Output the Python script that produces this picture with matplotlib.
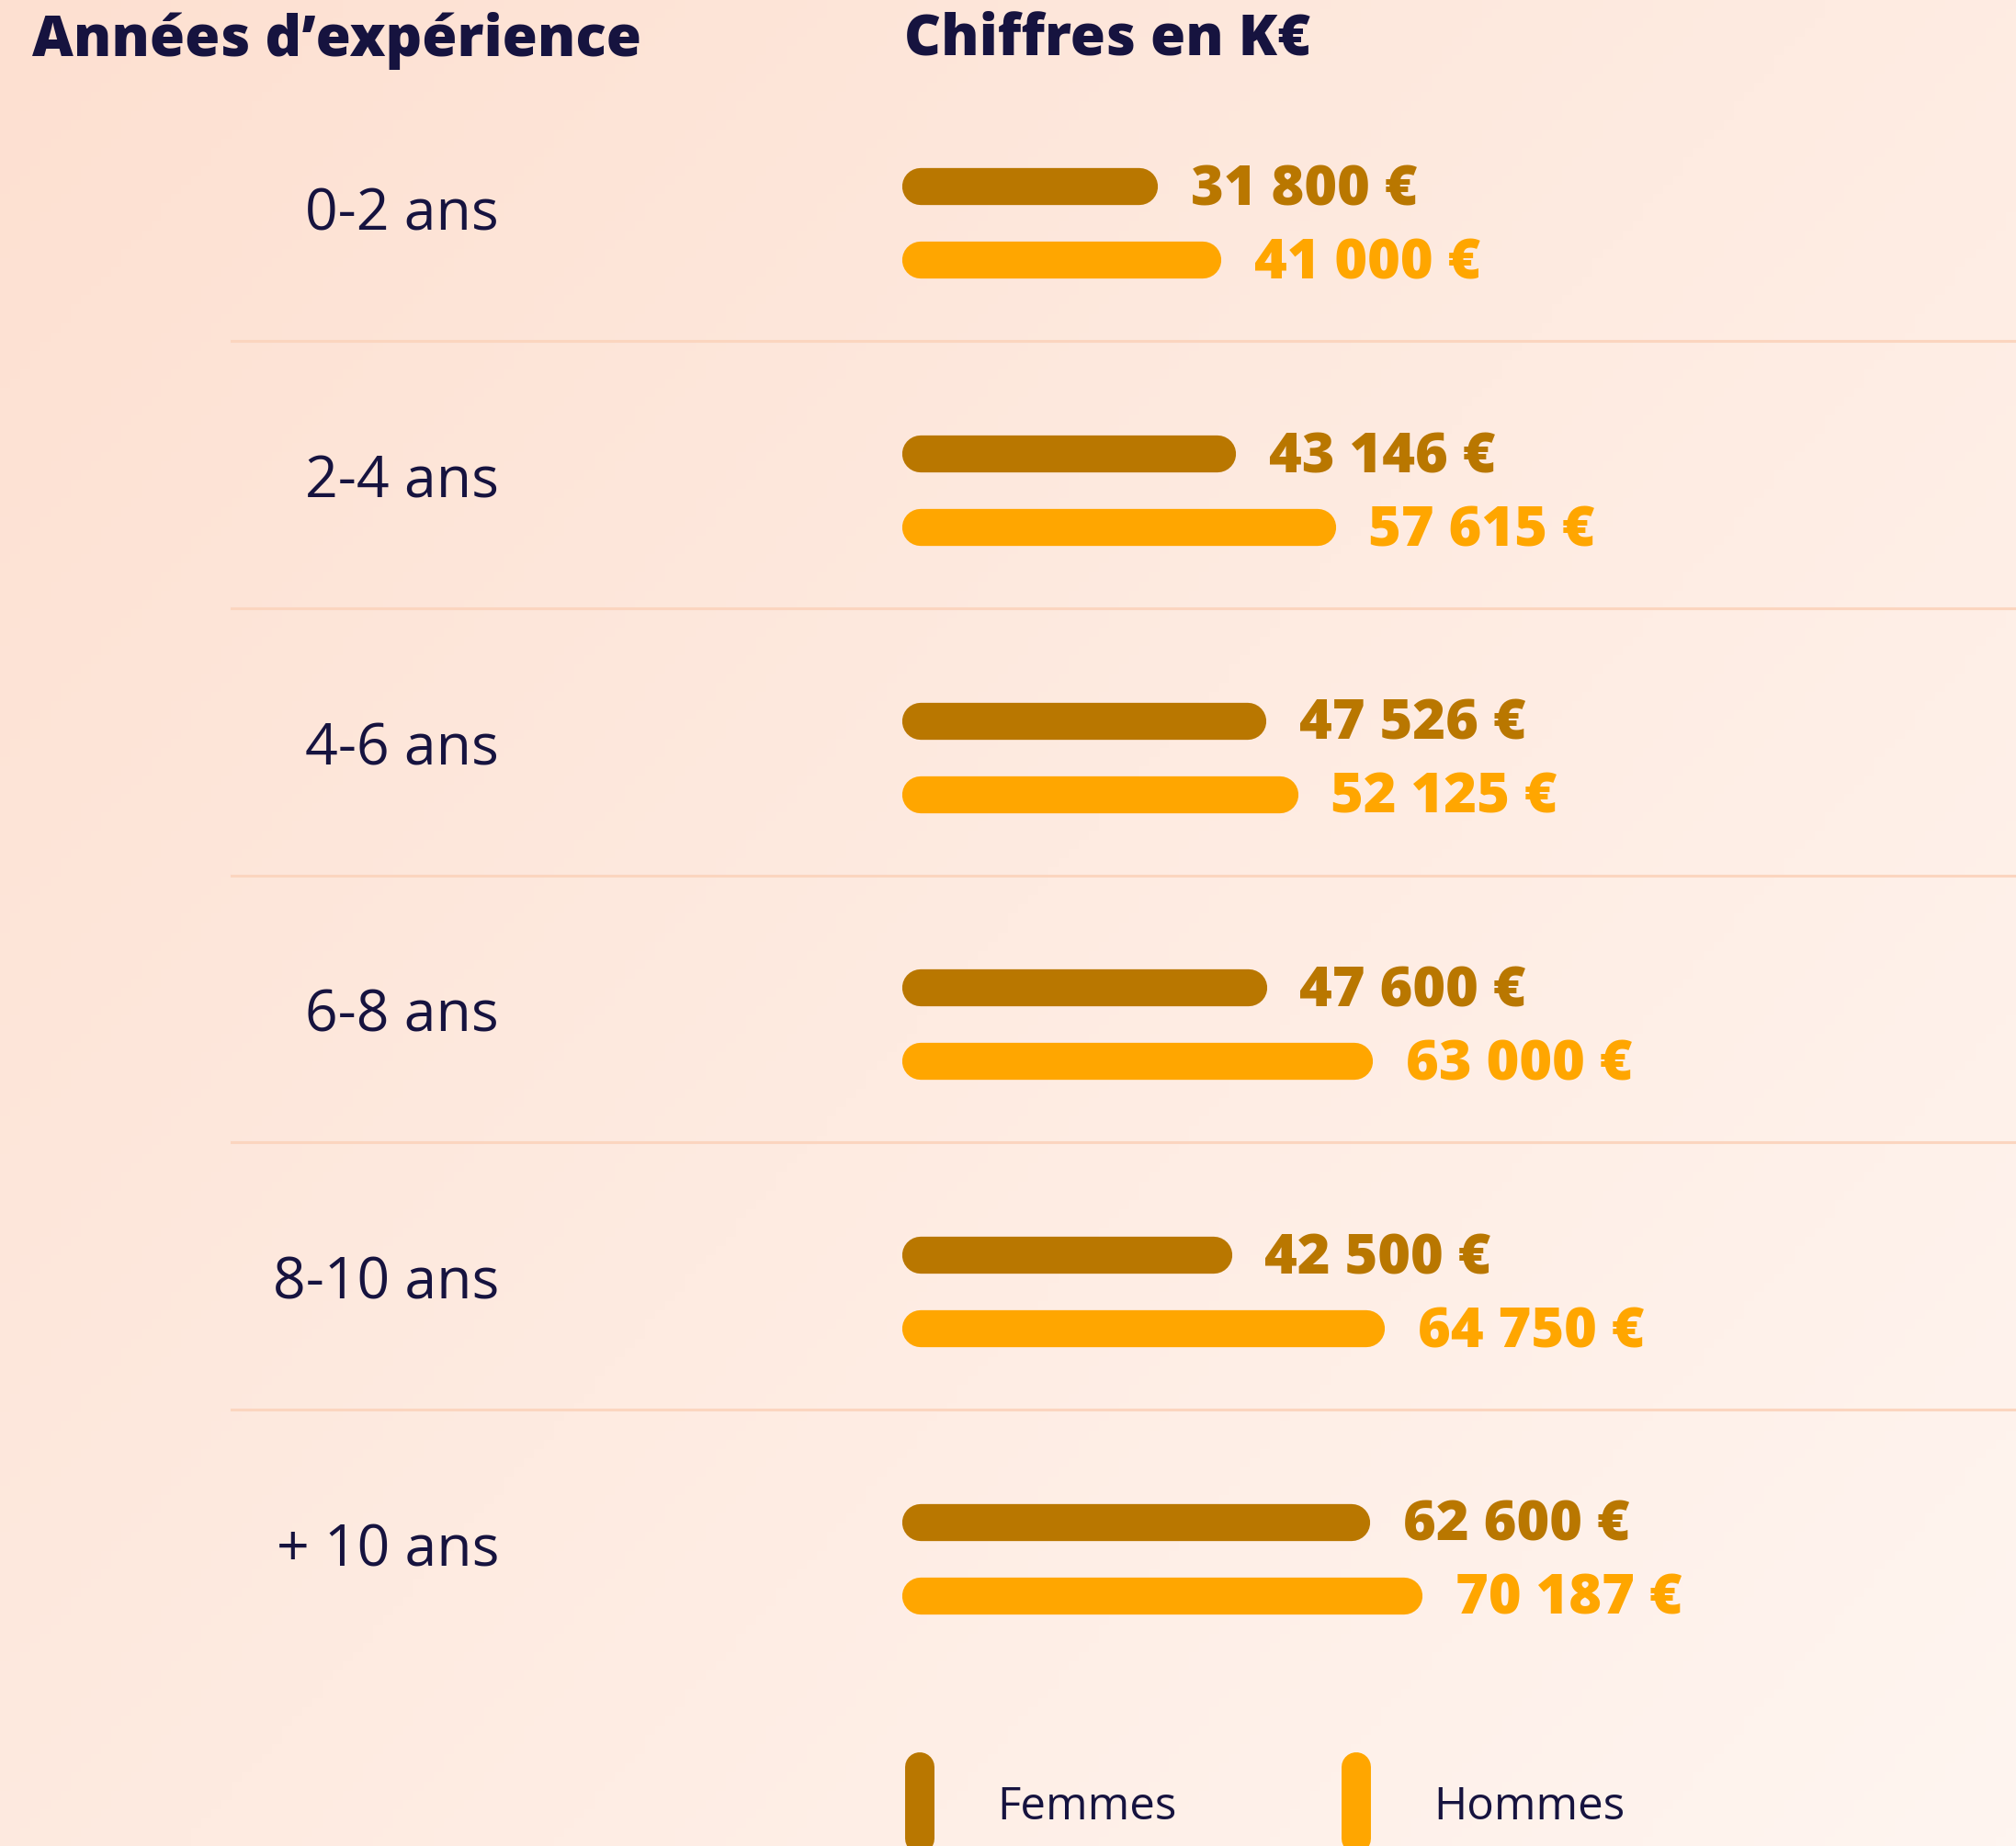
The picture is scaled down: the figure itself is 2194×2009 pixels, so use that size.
import matplotlib
matplotlib.use("Agg")
import matplotlib.pyplot as plt
import numpy as np
from matplotlib.lines import Line2D
from matplotlib.markers import MarkerStyle
from matplotlib.colors import LinearSegmentedColormap

categories = ["0-2 ans", "2-4 ans", "4-6 ans", "6-8 ans", "8-10 ans", "+ 10 ans"]
femmes = [31800, 43146, 47526, 47600, 42500, 62600]
hommes = [41000, 57615, 52125, 63000, 64750, 70187]
series_names = ["Femmes", "Hommes"]

NAVY = "#16133f"
GOLD = "#b97700"
ORANGE = "#ffa600"
SEP = "#fbd5bf"


def fmt_eur(v):
  return f"{v:,}".replace(",", " ") + " €"


W, H, DPI = 2194, 2009, 100
fig = plt.figure(figsize=(W / DPI, H / DPI), dpi=DPI)

# diagonal peach background
bg = fig.add_axes([0, 0, 1, 1], zorder=0)
bg.axis("off")
yy, xx = np.mgrid[0:1:200j, 0:1:200j]
grad = (xx * 0.55 + yy * 0.45)
cmap = LinearSegmentedColormap.from_list("peach", ["#fde0d1", "#feebe1", "#fef5f0"])
bg.imshow(grad, cmap=cmap, aspect="auto", extent=[0, 1, 0, 1], origin="upper")

# bars axis: full width, y in category units
top_px, bot_px = 98, 1842
ax = fig.add_axes([0, 1 - bot_px / H, 1, (bot_px - top_px) / H], zorder=1)
ax.patch.set_alpha(0)
ax.set_xlim(-133800, 159100)
ax.set_ylim(len(categories) - 0.5, -0.5)
ax.axis("off")

y = np.arange(len(categories))
off = 0.1375
val_font = dict(fontsize=44, fontweight=800, family="Open Sans")
for i in range(len(categories)):
  ax.plot([0, femmes[i]], [y[i] - off] * 2, color=GOLD, lw=29, solid_capstyle="round")
  ax.plot([0, hommes[i]], [y[i] + off] * 2, color=ORANGE, lw=29, solid_capstyle="round")
  ax.annotate(fmt_eur(femmes[i]), (femmes[i], y[i] - off), xytext=(40, -3),
              textcoords="offset points", va="center", ha="left",
              color=GOLD, **val_font)
  ax.annotate(fmt_eur(hommes[i]), (hommes[i], y[i] + off), xytext=(40, -3),
              textcoords="offset points", va="center", ha="left",
              color=ORANGE, **val_font)
  ax.text(-61300, y[i] - 0.03, categories[i], ha="right", va="center",
          color=NAVY, fontsize=45, family="Open Sans", fontweight="medium")

for i in range(len(categories) - 1):
  ax.axhline(y[i] + 0.44, xmin=252 / W, xmax=1, color=SEP, lw=2.2)

title_font = dict(fontsize=44.5, fontweight=800, family="Open Sans", color=NAVY)
fig.text(35 / W, 1 - 44 / H, "Années d’expérience", ha="left", va="center", **title_font)
fig.text(984 / W, 1 - 44 / H, "Chiffres en K€", ha="left", va="center", **title_font)

pill = MarkerStyle("|", capstyle="round")
handles = [Line2D([], [], color=c, linestyle="none", marker=pill,
                  markersize=56, markeredgewidth=23)
           for c in (GOLD, ORANGE)]
leg = fig.legend(handles, series_names, loc="center left",
                 bbox_to_anchor=(984 / W, 1 - 1967 / H), ncol=2, frameon=False,
                 prop=dict(family="Open Sans", size=35.5), handlelength=0.7,
                 handletextpad=1.36, columnspacing=3.6, borderpad=0, borderaxespad=0)
for t in leg.get_texts():
  t.set_color(NAVY)

fig.savefig("out.png", dpi=DPI)
